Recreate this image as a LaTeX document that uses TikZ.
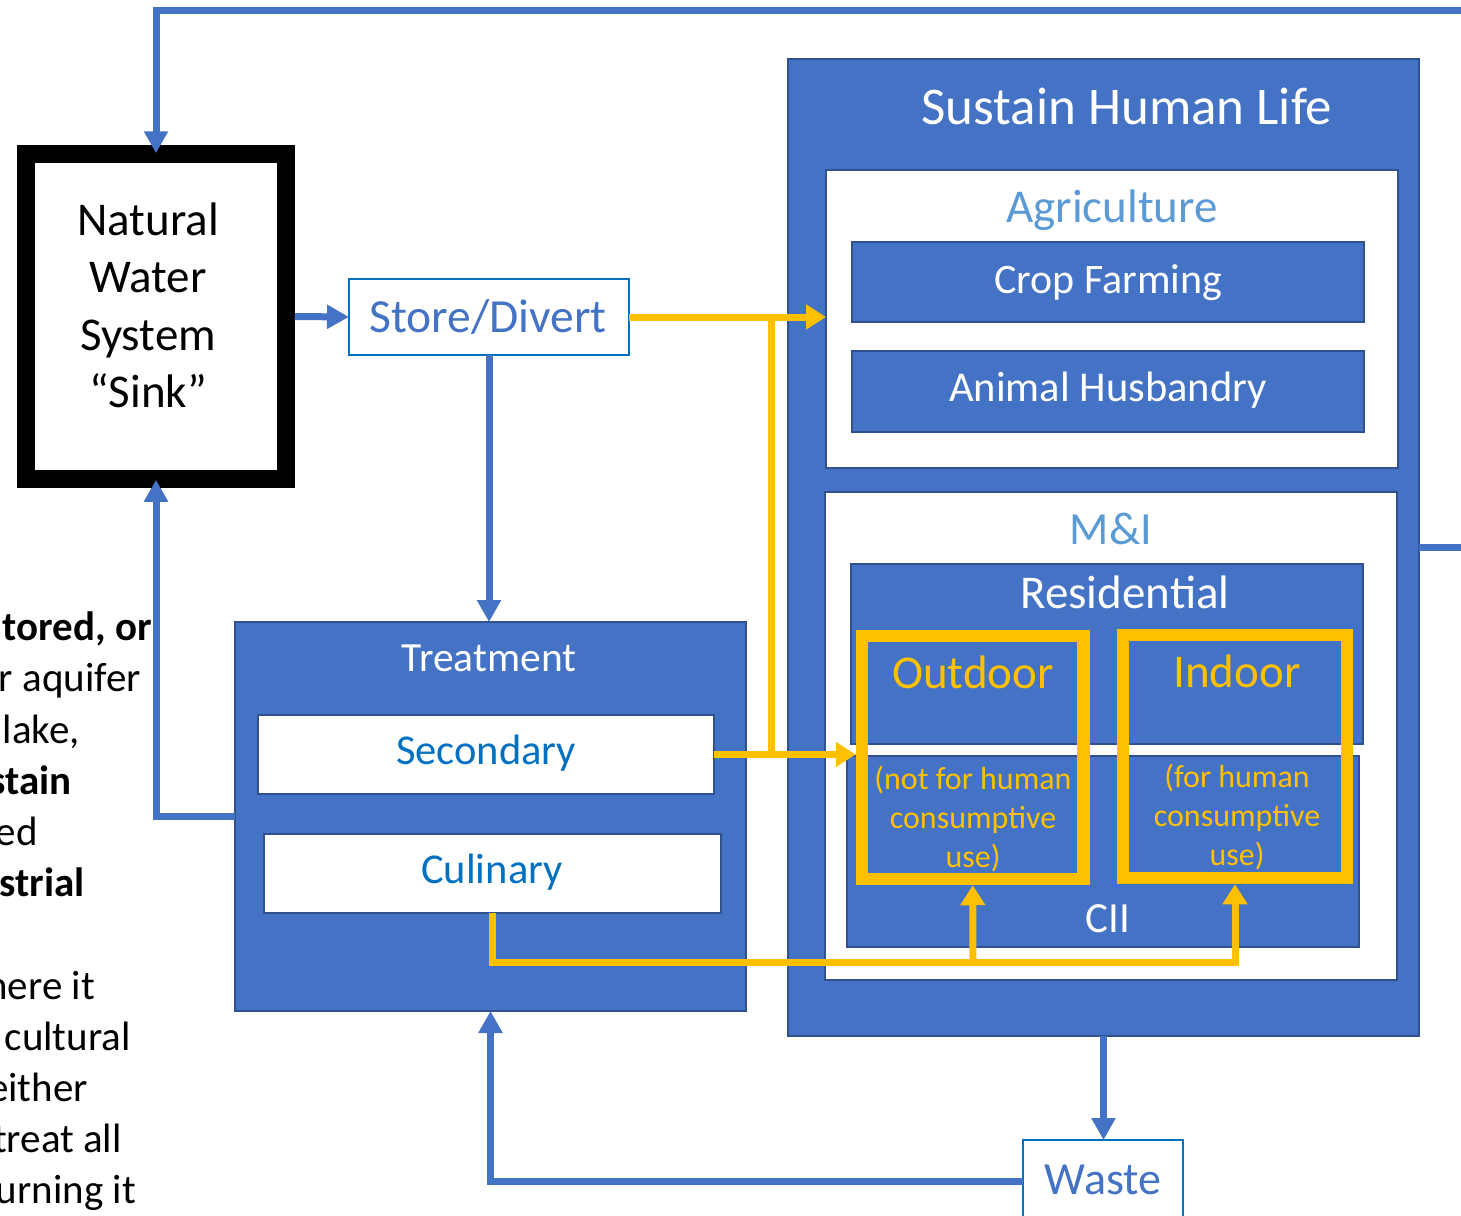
\documentclass[tikz,border=0pt]{standalone}
\usepackage{fontspec}
\setmainfont{Carlito}
\usetikzlibrary{arrows.meta}
\definecolor{bfill}{HTML}{4472C4}
\definecolor{bdark}{HTML}{2F528F}
\definecolor{gold}{HTML}{FFC000}
\definecolor{lblue}{HTML}{5B9BD5}
\definecolor{mblue}{HTML}{0070C0}
\newcommand{\fs}[1]{\fontsize{#1}{#1}\selectfont}
\begin{document}
\begin{tikzpicture}[x=1pt,y=-1pt,
  bluebox/.style={draw=bdark, fill=bfill, line width=2.5pt, inner sep=0pt, outer sep=0pt},
  whitebox/.style={draw=bdark, fill=white, line width=2.5pt, inner sep=0pt, outer sep=0pt},
  plainbox/.style={draw=mblue, fill=white, line width=2pt, inner sep=0pt, outer sep=0pt},
  goldbox/.style={draw=gold, line width=12.5pt, inner sep=0pt},
  sinkbox/.style={draw=black, fill=white, line width=17.5pt, inner sep=0pt},
  bluearrow/.style={draw=bfill, line width=7pt, -{Triangle[width=23pt,length=22pt]}},
  blueline/.style={draw=bfill, line width=7pt},
  goldarrow/.style={draw=gold, line width=7pt, -{Triangle[width=24pt,length=20pt]}},
  goldline/.style={draw=gold, line width=7pt},
  lbl/.style={inner sep=0pt, text height=0pt, text depth=0pt, yshift={-0.315*#1pt}, font=\fs{#1}},
  side/.style={inner sep=0pt, anchor=base east, font=\fs{41}},
]
\useasboundingbox (0,0) rectangle (1461,1215);
\clip (0,0) rectangle (1461,1215);

% left cut-off text
\node[side] (s1) at (152,640) {\bfseries tored, or};
\node[side] (s2) at (141,691) {r aquifer};
\node[side] (s3) at (80,743) {lake,};
\node[side] (s4) at (72,794) {\bfseries stain};
\node[side] (s5) at (38,845) {ed};
\node[side] (s6) at (85,896) {\bfseries strial};
\node[side] (s7) at (95,999) {here it};
\node[side] (s8) at (131,1050) {cultural};
\node[side] (s9) at (88,1101) {either};
\node[side] (s10) at (122,1152) {treat all};
\node[side] (s11) at (136,1203) {urning it};

% boxes
\node[bluebox, minimum width=631pt, minimum height=977pt] (sus) at (1103.5,547.5) {};
\node[whitebox, minimum width=572pt, minimum height=298pt] (agri) at (1112,319) {};
\node[bluebox, minimum width=512pt, minimum height=80pt] (crop) at (1108,282) {};
\node[bluebox, minimum width=512pt, minimum height=81pt] (anim) at (1108,391.5) {};
\node[whitebox, minimum width=572pt, minimum height=488pt] (mi) at (1111,736) {};
\node[bluebox, minimum width=512pt, minimum height=180pt] (res) at (1107,654) {};
\node[bluebox, minimum width=512pt, minimum height=191pt] (cii) at (1103,851.5) {};
\node[goldbox, minimum width=221.5pt, minimum height=243pt] (out) at (972.75,757.5) {};
\node[goldbox, minimum width=224pt, minimum height=243pt] (ind) at (1235,756.5) {};
\node[bluebox, minimum width=511pt, minimum height=389pt] (treat) at (490.5,816.5) {};
\node[whitebox, minimum width=456pt, minimum height=79pt] (sec) at (486,754.5) {};
\node[whitebox, minimum width=457pt, minimum height=79pt] (cul) at (492.5,873.5) {};
\node[plainbox, minimum width=280pt, minimum height=76pt] (store) at (489,317) {};
\node[plainbox, minimum width=160pt, minimum height=82pt] (waste) at (1103,1181) {};
\node[sinkbox, minimum width=260pt, minimum height=325pt] (nat) at (156,316.5) {};

% connector helper points
\coordinate (offTop) at (1480,10.5);
\coordinate (offRight) at (1480,547.5);
\coordinate (ja) at (771,317);
\coordinate (jb) at (771,754.5);
\coordinate (jc) at (973,962);
\coordinate (jd) at (1235,962);

% blue connectors
\draw[bluearrow, shorten >=-8pt] (offTop) -| (nat.north);
\draw[blueline] (sus.east) -- (offRight);
\draw[bluearrow] (nat.east) -- (store.west);
\draw[bluearrow] (store.south) -- (store.south |- treat.north);
\draw[bluearrow, shorten >=-8pt] (treat.west) -| (nat.south);
\draw[bluearrow] (sus.south) -- (sus.south |- waste.north);
\draw[bluearrow] (waste.west) -| (treat.south);

% gold connectors
\draw[goldarrow] (store.east) -- (store.east -| agri.west);
\draw[goldline] (ja) -- (jb);
\draw[goldarrow] (sec.east) -- (sec.east -| out.west);
\draw[goldarrow] (cul.south) |- (jd) -- (ind.south);
\draw[goldarrow] (jc) -- (out.south);

% texts
\node[lbl=47] (n1) at (148,221) {Natural};
\node[lbl=47] (n2) at (148,278) {Water};
\node[lbl=47] (n3) at (148,336) {System};
\node[lbl=47] (n4) at (148,393) {“Sink”};
\node[lbl=47.5, text=bfill] (tstore) at (488,318) {Store/Divert};
\node[lbl=53, text=white] (tsus) at (1127,108) {Sustain Human Life};
\node[lbl=47, text=lblue] (tagri) at (1112,208) {Agriculture};
\node[lbl=42, text=white] (tcrop) at (1108,280) {Crop Farming};
\node[lbl=42.5, text=white] (tanim) at (1108,388) {Animal Husbandry};
\node[lbl=46, text=lblue] (tmi) at (1111,530) {M\&I};
\node[lbl=47, text=white] (tres) at (1125,594) {Residential};
\node[lbl=47, text=gold] (tout) at (973,674) {Outdoor};
\node[lbl=47, text=gold] (tind) at (1237,673) {Indoor};
\node[lbl=32, text=gold] (o1) at (973,779) {(not for human};
\node[lbl=32, text=gold] (o2) at (973,818) {consumptive};
\node[lbl=32, text=gold] (o3) at (973,857) {use)};
\node[lbl=32, text=gold] (i1) at (1237,777) {(for human};
\node[lbl=32, text=gold] (i2) at (1237,816) {consumptive};
\node[lbl=32, text=gold] (i3) at (1237,855) {use)};
\node[lbl=43, text=white] (tcii) at (1108,919) {CII};
\node[lbl=41.5, text=white] (ttreat) at (489,658) {Treatment};
\node[lbl=42.5, text=mblue] (tsec) at (486,751) {Secondary};
\node[lbl=42.5, text=mblue] (tcul) at (492,870) {Culinary};
\node[lbl=46, text=bfill] (twaste) at (1103,1180) {Waste};
\end{tikzpicture}
\end{document}
